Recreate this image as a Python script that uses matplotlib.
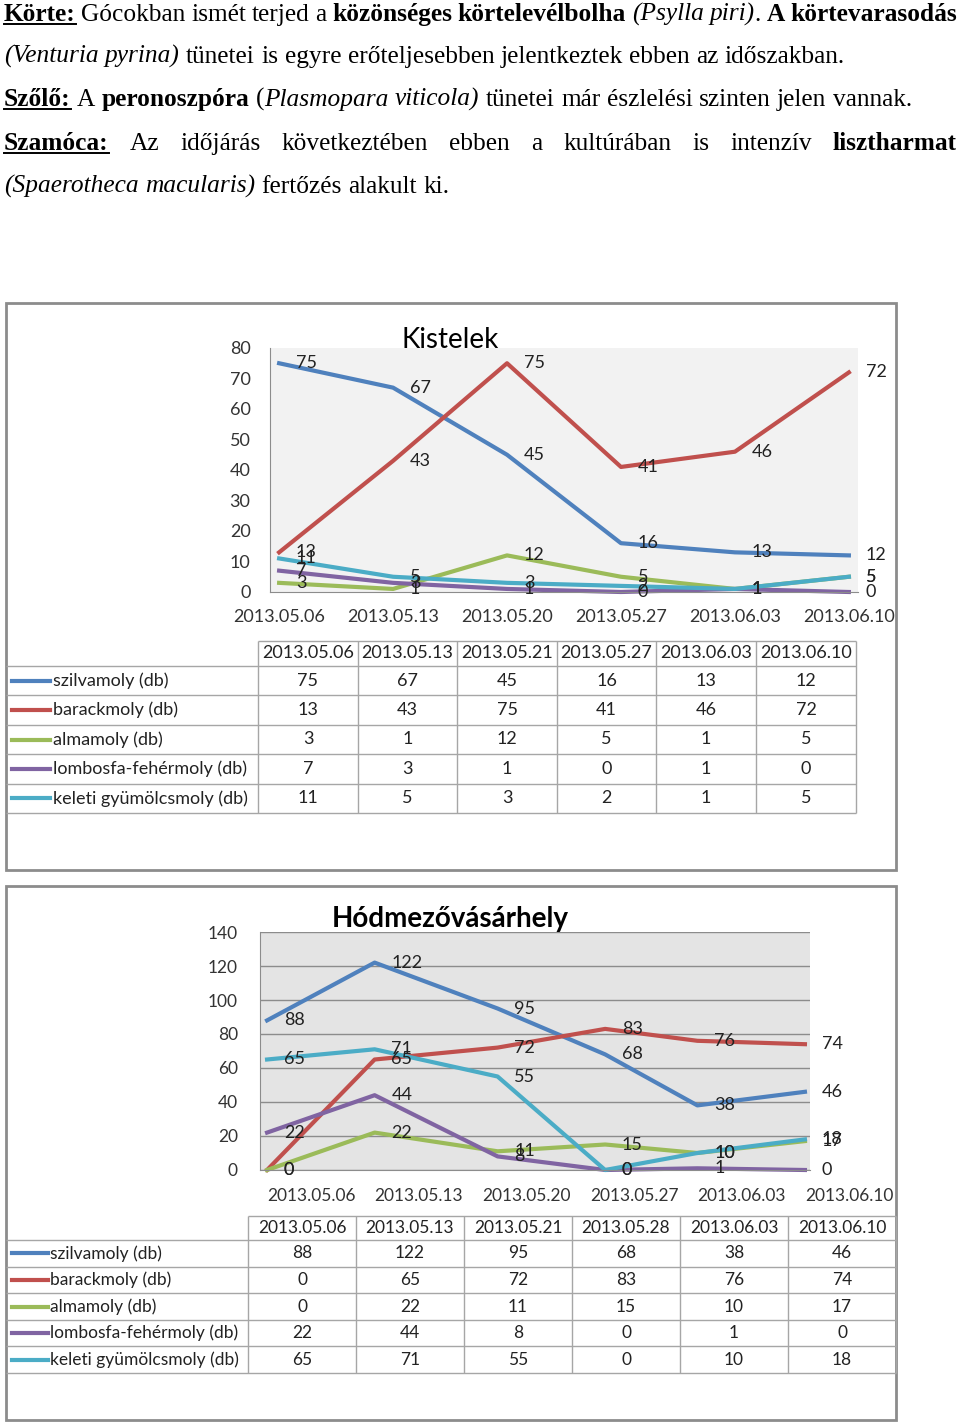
import numpy as np
import matplotlib
matplotlib.use('Agg')
import matplotlib.pyplot as plt
from matplotlib.patches import Rectangle

W, H = 960, 1422

# sorozatok (mindkét grafikonon ugyanazok)
series_names = ['szilvamoly (db)', 'barackmoly (db)', 'almamoly (db)',
                'lombosfa-fehérmoly (db)', 'keleti gyümölcsmoly (db)']
series_colors = ['#4F81BD', '#C0504D', '#9BBB59', '#8064A2', '#4BACC6']

# Kistelek
kistelek_axis_labels = ['2013.05.06', '2013.05.13', '2013.05.20',
                        '2013.05.27', '2013.06.03', '2013.06.10']
kistelek_table_dates = ['2013.05.06', '2013.05.13', '2013.05.21',
                        '2013.05.27', '2013.06.03', '2013.06.10']
kistelek_szilva = [75, 67, 45, 16, 13, 12]
kistelek_barack = [13, 43, 75, 41, 46, 72]
kistelek_alma = [3, 1, 12, 5, 1, 5]
kistelek_lombosfa = [7, 3, 1, 0, 1, 0]
kistelek_keleti = [11, 5, 3, 2, 1, 5]

# Hódmezővásárhely
hmv_axis_labels = ['2013.05.06', '2013.05.13', '2013.05.20',
                   '2013.05.27', '2013.06.03', '2013.06.10']
hmv_table_dates = ['2013.05.06', '2013.05.13', '2013.05.21',
                   '2013.05.28', '2013.06.03', '2013.06.10']
hmv_szilva = [88, 122, 95, 68, 38, 46]
hmv_barack = [0, 65, 72, 83, 76, 74]
hmv_alma = [0, 22, 11, 15, 10, 17]
hmv_lombosfa = [22, 44, 8, 0, 1, 0]
hmv_keleti = [65, 71, 55, 0, 10, 18]

# bevezető szöveg: (szöveg, stílus) darabok soronként; b=félkövér, i=dőlt, u=aláhúzott
text_lines = [
    ([('Körte:', 'bu'), (' Gócokban ismét terjed a ', ''),
      ('közönséges körtelevélbolha', 'b'), (' (Psylla piri)', 'i'), ('. ', ''),
      ('A körtevarasodás', 'b')], True),
    ([('(Venturia pyrina)', 'i'),
      (' tünetei is egyre erőteljesebben jelentkeztek ebben az időszakban.', '')], False),
    ([('Szőlő:', 'bu'), (' A ', ''), ('peronoszpóra', 'b'), (' (', ''),
      ('Plasmopara viticola)', 'i'), ('  tünetei már észlelési szinten jelen vannak.', '')], False),
    ([('Szamóca:', 'bu'),
      (' Az időjárás következtében ebben a kultúrában is intenzív ', ''),
      ('lisztharmat', 'b')], True),
    ([('(Spaerotheca macularis)', 'i'), (' fertőzés alakult ki.', '')], False),
]
text_baselines = [21, 63, 106, 150, 193]

plt.rcParams['font.family'] = ['Lato', 'DejaVu Sans']

fig = plt.figure(figsize=(W / 100, H / 100), dpi=100)
# egész oldalt lefedő tengely pixel-koordinátákkal (y lefelé nő)
page = fig.add_axes([0, 0, 1, 1])
page.set_xlim(0, W)
page.set_ylim(H, 0)
page.axis('off')
renderer = fig.canvas.get_renderer()


def fig_box(x0, y0, x1, y1):
    return [x0 / W, 1 - y1 / H, (x1 - x0) / W, (y1 - y0) / H]


def split_words(runs):
    words = [[]]
    for text, style in runs:
        for i, part in enumerate(text.split(' ')):
            if i > 0 and words[-1]:
                words.append([])
            if part:
                words[-1].append((part, style))
    if not words[-1]:
        words.pop()
    return words


TEXT_FS = 18.3


def draw_text_line(runs, baseline, justify, left=4, right=957):
    placed = []
    for word in split_words(runs):
        parts = []
        for text, style in word:
            t = page.text(0, baseline, text, fontsize=TEXT_FS, va='baseline',
                          family=['Liberation Serif', 'DejaVu Serif'],
                          fontweight='bold' if 'b' in style else 'normal',
                          fontstyle='italic' if 'i' in style else 'normal')
            parts.append((t, t.get_window_extent(renderer).width, style))
        placed.append(parts)
    widths = [sum(p[1] for p in parts) for parts in placed]
    gap = TEXT_FS * 100 / 72 * 0.25
    if justify:
        # sorkizárt sor: a szóközök igazodnak a sor szélességéhez
        gap = max(2, (right - left - sum(widths)) / (len(widths) - 1))
    x = left
    for parts in placed:
        for t, w, style in parts:
            t.set_x(x)
            if 'u' in style:
                page.plot([x, x + w], [baseline + 3, baseline + 3], color='black', lw=1.4)
            x += w
        x += gap


for (runs, justify), base in zip(text_lines, text_baselines):
    draw_text_line(runs, base, justify)

# keretek
for y0, y1 in [(303, 870), (886, 1420)]:
    page.add_patch(Rectangle((6, y0), 890, y1 - y0, fill=False, ec='#8c8c8c', lw=2))


def plot_series(ax, xs, values_list, label_fs=13):
    for vals, color in zip(values_list, series_colors):
        ax.plot(xs, vals, color=color, lw=3, clip_on=False)
        for x, v in zip(xs, vals):
            ax.annotate(str(v), (x, v), xytext=(12, 0), textcoords='offset points',
                        ha='left', va='center', fontsize=label_fs, color='#222222',
                        annotation_clip=False)


def style_axes(ax, facecolor):
    ax.set_facecolor(facecolor)
    for side in ['top', 'right']:
        ax.spines[side].set_visible(False)
    for side in ['left', 'bottom']:
        ax.spines[side].set_color('#8c8c8c')
    ax.tick_params(length=0, colors='#333333')


def draw_table(col_edges, row_edges, label_left, dates, values_list, key_x, text_x, fs):
    line_kw = dict(colors='#a6a6a6', lw=1)
    page.hlines(row_edges[0], col_edges[0], col_edges[-1], **line_kw)
    page.hlines(row_edges[1:], label_left, col_edges[-1], **line_kw)
    page.vlines(col_edges, row_edges[0], row_edges[-1], **line_kw)
    centers = [(a + b) / 2 for a, b in zip(col_edges[:-1], col_edges[1:])]
    for cx, d in zip(centers, dates):
        page.text(cx, (row_edges[0] + row_edges[1]) / 2, d, ha='center', va='center',
                  fontsize=fs, color='#222222')
    for i, (name, color, vals) in enumerate(zip(series_names, series_colors, values_list)):
        cy = (row_edges[i + 1] + row_edges[i + 2]) / 2
        page.plot(key_x, [cy, cy], color=color, lw=3)
        page.text(text_x, cy, name, ha='left', va='center', fontsize=fs, color='#222222')
        for cx, v in zip(centers, vals):
            page.text(cx, cy, str(v), ha='center', va='center', fontsize=fs, color='#222222')


# --- Kistelek ---
kistelek_values = [kistelek_szilva, kistelek_barack, kistelek_alma,
                   kistelek_lombosfa, kistelek_keleti]
ax1 = fig.add_axes(fig_box(270, 348, 858, 592))
style_axes(ax1, '#f2f2f2')
xk = np.arange(len(kistelek_axis_labels))
plot_series(ax1, xk, kistelek_values)
ax1.set_xlim(-0.08, 5.08)
ax1.set_ylim(0, 80)
ax1.set_yticks(range(0, 81, 10))
ax1.set_xticks(xk, kistelek_axis_labels)
ax1.tick_params(labelsize=13)
ax1.tick_params(axis='y', pad=14)
ax1.tick_params(axis='x', pad=12)
fig.text(450 / W, 1 - 340 / H, 'Kistelek', ha='center', va='center', fontsize=20)

draw_table([258, 358, 457, 557, 656, 756, 856],
           [641] + list(np.linspace(666, 813, 6)), 6,
           kistelek_table_dates, kistelek_values, [12, 50], 53, 13)

# --- Hódmezővásárhely ---
hmv_values = [hmv_szilva, hmv_barack, hmv_alma, hmv_lombosfa, hmv_keleti]


def to_days(labels, start):
    d = np.array([s.replace('.', '-') for s in labels], dtype='datetime64[D]')
    return (d - start).astype(int)


start = np.datetime64(hmv_table_dates[0].replace('.', '-'))
xh = to_days(hmv_table_dates, start)
xh_ticks = to_days(hmv_axis_labels, start)

ax2 = fig.add_axes(fig_box(260, 932, 810, 1170))
style_axes(ax2, '#e4e4e4')
ax2.yaxis.grid(True, color='#8c8c8c', lw=1)
ax2.set_axisbelow(True)
plot_series(ax2, xh, hmv_values)
ax2.set_xlim(-0.46, 35.33)
ax2.set_ylim(0, 140)
ax2.set_yticks(range(0, 141, 20))
ax2.set_xticks(xh_ticks)
ax2.set_xticklabels(hmv_axis_labels, ha='left')
ax2.tick_params(labelsize=12.5)
ax2.tick_params(axis='y', pad=16)
ax2.tick_params(axis='x', pad=13)
fig.text(450 / W, 1 - 919 / H, 'Hódmezővásárhely', ha='center', va='center',
         fontsize=20, fontweight='bold')

draw_table([248, 356, 464, 572, 680, 788, 896],
           [1216] + list(np.linspace(1240, 1373, 6)), 6,
           hmv_table_dates, hmv_values, [12, 48], 50, 12.5)

fig.savefig('out.png', dpi=100)
